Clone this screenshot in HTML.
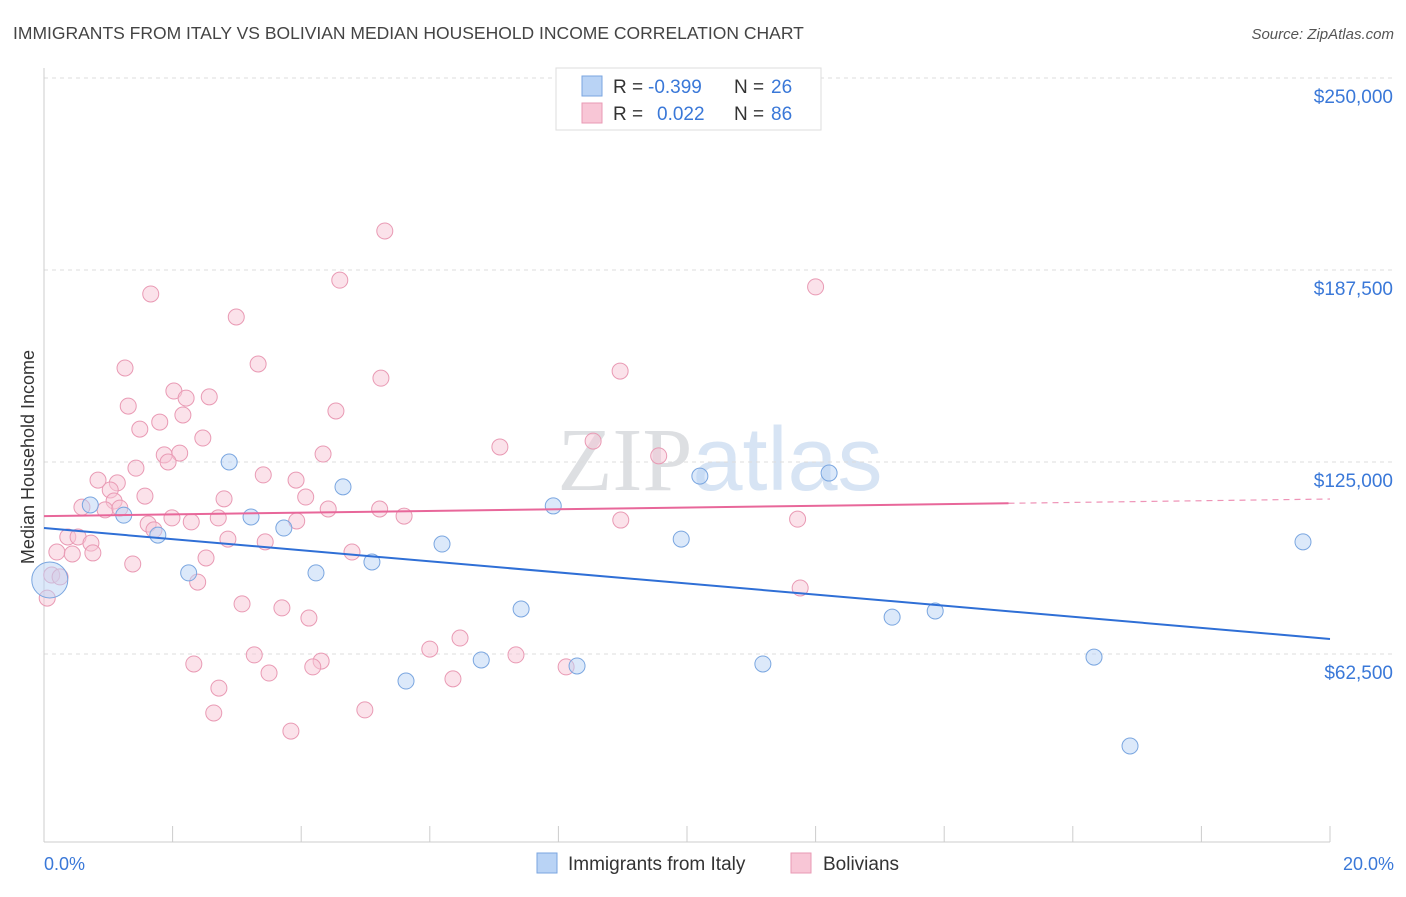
<!DOCTYPE html>
<html><head><meta charset="utf-8"><style>
body{margin:0;background:#fff;font-family:"Liberation Sans",sans-serif}
</style></head><body>
<svg id="chart" width="1406" height="892" xmlns="http://www.w3.org/2000/svg" font-family="Liberation Sans, sans-serif">
<text x="13" y="39" font-size="17.5" fill="#444">IMMIGRANTS FROM ITALY VS BOLIVIAN MEDIAN HOUSEHOLD INCOME CORRELATION CHART</text>
<text x="1394" y="39" font-size="15" fill="#555" text-anchor="end" font-style="italic">Source: ZipAtlas.com</text>
<text x="720" y="490" font-size="90" text-anchor="middle" opacity="0.35"><tspan font-family="Liberation Serif, serif" fill="#a0a6ae">ZIP</tspan><tspan fill="#8fb4e0">atlas</tspan></text>
<g id="grid"></g>
<g id="axes"></g>
<g id="pts"></g>
<g id="trends"></g>
<text transform="translate(34,457) rotate(-90)" font-size="18" fill="#333" text-anchor="middle">Median Household Income</text>
<text x="44" y="870" font-size="18" fill="#3a78d8">0.0%</text>
<text x="1394" y="870" font-size="18" fill="#3a78d8" text-anchor="end">20.0%</text>
<g>
<rect x="556" y="68" width="265" height="62" fill="#fff" stroke="#ddd"/>
<rect x="582" y="76" width="20" height="20" fill="#b9d3f5" stroke="#7aa6e0"/>
<rect x="582" y="103" width="20" height="20" fill="#f8c6d6" stroke="#e99ab4"/>
<text x="613" y="93" font-size="19" fill="#333">R =</text>
<text x="648" y="93" font-size="19" fill="#3a78d8">-0.399</text>
<text x="734" y="93" font-size="19" fill="#333">N =</text>
<text x="771" y="93" font-size="19" fill="#3a78d8">26</text>
<text x="613" y="120" font-size="19" fill="#333">R =</text>
<text x="657" y="120" font-size="19" fill="#3a78d8">0.022</text>
<text x="734" y="120" font-size="19" fill="#333">N =</text>
<text x="771" y="120" font-size="19" fill="#3a78d8">86</text>
</g>
<g>
<rect x="537" y="853" width="20" height="20" fill="#b9d3f5" stroke="#7aa6e0"/>
<text x="568" y="870" font-size="19" fill="#333">Immigrants from Italy</text>
<rect x="791" y="853" width="20" height="20" fill="#f8c6d6" stroke="#e99ab4"/>
<text x="823" y="870" font-size="19" fill="#333">Bolivians</text>
</g>
</svg>
<script>
const yTicks=[62500,125000,187500,250000];
const yTickLabels=["$62,500","$125,000","$187,500","$250,000"];
const xTicks=[0,2,4,6,8,10,12,14,16,18,20];
const italyX=[0.72,1.24,1.77,2.25,2.88,3.22,3.73,4.23,4.65,5.10,5.63,6.19,6.80,7.42,7.92,8.29,9.91,10.20,11.18,12.21,13.19,13.86,16.33,16.89,19.58,0.09];
const italyY=[111000,107700,101200,88900,125000,107100,103500,88900,116900,92450,53700,98300,60550,77150,110700,58600,99900,120400,59250,121400,74500,76500,61500,32550,99000,86600];
const bolX=[5.30,4.60,1.66,12.00,2.99,3.33,1.26,8.96,5.24,2.02,2.57,2.21,1.31,4.54,2.16,1.80,1.49,2.47,8.54,2.11,4.34,1.87,7.09,9.56,1.93,1.43,3.41,0.84,3.92,1.14,1.03,1.57,4.07,2.80,1.09,0.59,0.95,1.18,4.42,5.22,5.60,1.99,2.71,11.72,8.97,3.93,1.62,2.29,1.71,0.37,0.53,0.73,2.86,3.44,4.79,0.20,0.44,2.52,1.38,0.12,0.25,0.05,2.39,11.76,3.08,3.70,4.12,6.47,6.00,7.34,3.27,4.31,4.18,2.33,8.12,3.50,6.36,2.72,2.64,4.99,3.84,0.76];
const bolY=[200200,184200,179700,182000,172200,156900,155600,154600,152300,148100,146200,145800,143200,141600,140300,138000,135700,132800,131800,127900,127600,127300,129900,127000,125000,123000,120800,119100,119100,118200,115900,113900,113600,113000,112300,110300,109400,110000,109700,109700,107400,106800,106800,106400,106100,105800,104800,105500,102900,100600,100600,98600,99900,99000,95700,95700,95050,93750,91800,88200,87600,80700,85900,84000,78800,77500,74200,67700,64100,62200,62200,60200,58300,59250,58300,56300,54400,51400,43300,44300,37400,95400];
const italyTrend=[103500,67400];
const bolTrend=[107400,112950];
const bolSolidEnd=15;
const NS="http://www.w3.org/2000/svg";
const X=v=>44+v/20*1286;
const Y=v=>654-(v-62500)*192/62500;
function mk(tag,attrs,parent){const e=document.createElementNS(NS,tag);for(const k in attrs)e.setAttribute(k,attrs[k]);document.getElementById(parent).appendChild(e);return e;}
yTicks.forEach((t,i)=>{
 const l=mk('line',{x1:44,x2:1394,y1:Y(t),y2:Y(t),stroke:'#ddd','stroke-dasharray':'4,4'},'grid');
 
 
 const tx=mk('text',{x:1393,y:Y(t)+25,'font-size':19,fill:'#3a78d8','text-anchor':'end'},'grid');
 tx.textContent=yTickLabels[i];
 
 
});
const ax=mk('line',{x1:44,x2:44,y1:68,y2:842,stroke:'#ccc'},'axes');


const bx=mk('line',{x1:44,x2:1330,y1:842,y2:842,stroke:'#ccc'},'axes');


xTicks.forEach(t=>{
 const l=mk('line',{x1:X(t),x2:X(t),y1:826,y2:842,stroke:'#ccc'},'axes');
 
 
});
bolX.forEach((x,i)=>{
 const c=mk('circle',{cx:X(x),cy:Y(bolY[i]),r:8,fill:'#f8c6d6','fill-opacity':0.5,stroke:'#e99ab4','stroke-width':1},'pts');
 
 
});
italyX.forEach((x,i)=>{
 const big=i===italyX.length-1;
 const c=mk('circle',{cx:X(x),cy:Y(italyY[i]),r:big?18:8,fill:'#b9d3f5','fill-opacity':0.5,stroke:'#7aa6e0','stroke-width':1},'pts');
 
 
});
const bt=mk('line',{x1:X(0),y1:Y(italyTrend[0]),x2:X(20),y2:Y(italyTrend[1]),stroke:'#2f6fd6','stroke-width':2},'trends');


const pm=bolTrend[0]+(bolTrend[1]-bolTrend[0])*bolSolidEnd/20;
const pt=mk('line',{x1:X(0),y1:Y(bolTrend[0]),x2:X(bolSolidEnd),y2:Y(pm),stroke:'#e8679a','stroke-width':2},'trends');


const pd=mk('line',{x1:X(bolSolidEnd),y1:Y(pm),x2:X(20),y2:Y(bolTrend[1]),stroke:'#e8679a','stroke-width':1.2,'stroke-dasharray':'6,5','opacity':0.7},'trends');


</script>
</body></html>
